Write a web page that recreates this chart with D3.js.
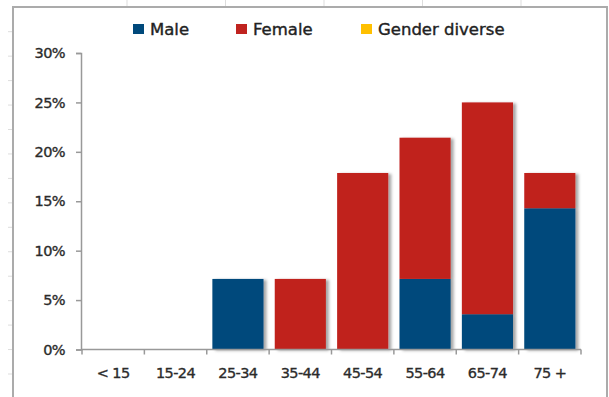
<!DOCTYPE html>
<html>
<head>
<meta charset="utf-8">
<script src="https://cdn.jsdelivr.net/npm/d3@7"></script>
<style>
  html, body { margin: 0; padding: 0; background: #fff; }
  svg { display: block; }
  .tick text { font-family: "DejaVu Sans", sans-serif; fill: #2b2b2b; }
</style>
</head>
<body>
<svg id="chart" width="609" height="397"></svg>
<script>
"use strict";

// age groups along the x axis
const ageGroups = ["< 15", "15-24", "25-34", "35-44", "45-54", "55-64", "65-74", "75 +"];

// share of respondents, percent
const maleValues    = [0, 0, 7.14, 0, 0, 7.14, 3.57, 14.29];
const femaleValues  = [0, 0, 0, 7.14, 17.86, 14.29, 21.43, 3.57];
const diverseValues = [0, 0, 0, 0, 0, 0, 0, 0];

const seriesNames  = ["Male", "Female", "Gender diverse"];
const seriesColors = ["#00497b", "#c0231f", "#ffc000"];

const yTicks = [0, 5, 10, 15, 20, 25, 30];

const svg = d3.select("#chart");

// shadow under the bars
const defs = svg.append("defs");
defs.append("filter")
    .attr("id", "shadow")
    .attr("x", "-10%").attr("y", "-10%")
    .attr("width", "130%").attr("height", "130%")
  .append("feDropShadow")
    .attr("dx", 3).attr("dy", 1)
    .attr("stdDeviation", 1.5)
    .attr("flood-color", "#000")
    .attr("flood-opacity", 0.35);

// faint sheet grid marks outside the frame
svg.append("g")
    .selectAll("line")
    .data(d3.range(31.7, 397, 24.45))
    .join("line")
    .attr("x1", 8).attr("x2", 13)
    .attr("y1", d => d).attr("y2", d => d)
    .attr("stroke", "#ddd").attr("stroke-width", 1);

svg.append("g")
    .selectAll("line")
    .data(d3.range(127, 609, 98.5))
    .join("line")
    .attr("x1", d => d).attr("x2", d => d)
    .attr("y1", 0).attr("y2", 7)
    .attr("stroke", "#ddd").attr("stroke-width", 1);

// chart frame
svg.append("path")
    .attr("d", "M13,400 V7 H607 V400")
    .attr("fill", "none")
    .attr("stroke", "#ababab")
    .attr("stroke-width", 2);

const x = d3.scaleBand()
    .domain(ageGroups)
    .range([82, 581])
    .paddingInner(0.18)
    .paddingOuter(0.09);

const y = d3.scaleLinear()
    .domain([0, 30])
    .range([349.5, 53]);

// stacked data
const table = ageGroups.map((g, i) => ({
    group: g,
    "Male": maleValues[i],
    "Female": femaleValues[i],
    "Gender diverse": diverseValues[i]
}));
const stacked = d3.stack().keys(seriesNames)(table);

const gBars = svg.append("g").attr("filter", "url(#shadow)");
gBars.selectAll("g")
    .data(stacked)
    .join("g")
    .attr("fill", (d, i) => seriesColors[i])
    .selectAll("rect")
    .data(d => d.filter(v => v[1] - v[0] > 0))
    .join("rect")
    .attr("x", d => x(d.data.group))
    .attr("width", x.bandwidth())
    .attr("y", d => y(d[1]))
    .attr("height", d => y(d[0]) - y(d[1]));

// y axis
const yAxis = svg.append("g")
    .attr("transform", "translate(81,0)")
    .call(d3.axisLeft(y).tickValues(yTicks).tickFormat(d => d + "%").tickSize(5).tickPadding(11));
yAxis.selectAll("text")
    .style("font-size", "14.5px")
    .attr("letter-spacing", "-0.6")
    .attr("stroke", "#2b2b2b")
    .attr("stroke-width", 0.35);

// x axis
const xAxisScale = d3.scalePoint().domain(d3.range(9)).range([82, 581]);
const xAxis = svg.append("g")
    .attr("transform", "translate(0,349.5)");
xAxis.append("line")
    .attr("x1", 81).attr("x2", 581)
    .attr("stroke", "#999").attr("stroke-width", 1.5);
xAxis.selectAll("line.tk")
    .data(d3.range(9))
    .join("line")
    .attr("class", "tk")
    .attr("x1", d => xAxisScale(d)).attr("x2", d => xAxisScale(d))
    .attr("y1", 0).attr("y2", 5)
    .attr("stroke", "#999").attr("stroke-width", 1.5);
xAxis.selectAll("text")
    .data(ageGroups)
    .join("text")
    .attr("x", d => x(d) + x.bandwidth() / 2)
    .attr("y", 28.5)
    .attr("text-anchor", "middle")
    .attr("font-family", "DejaVu Sans, sans-serif")
    .attr("font-size", "14.5px")
    .attr("letter-spacing", "-0.6")
    .attr("fill", "#2b2b2b")
    .attr("stroke", "#2b2b2b")
    .attr("stroke-width", 0.35)
    .text(d => d);

yAxis.select(".domain").attr("stroke", "#999").attr("stroke-width", 1.5);
yAxis.selectAll(".tick line").attr("stroke", "#999").attr("stroke-width", 1.5);

// legend
const legendX = [133, 236, 361];
const legend = svg.append("g");
const items = legend.selectAll("g")
    .data(seriesNames)
    .join("g")
    .attr("transform", (d, i) => `translate(${legendX[i]},24)`);
items.append("rect")
    .attr("width", 11).attr("height", 10)
    .attr("fill", (d, i) => seriesColors[i]);
items.append("text")
    .attr("x", 17)
    .attr("y", 10.5)
    .attr("font-family", "DejaVu Sans, sans-serif")
    .attr("font-size", "16.5px")
    .attr("fill", "#222")
    .attr("stroke", "#222")
    .attr("stroke-width", 0.4)
    .text(d => d);
</script>
</body>
</html>
